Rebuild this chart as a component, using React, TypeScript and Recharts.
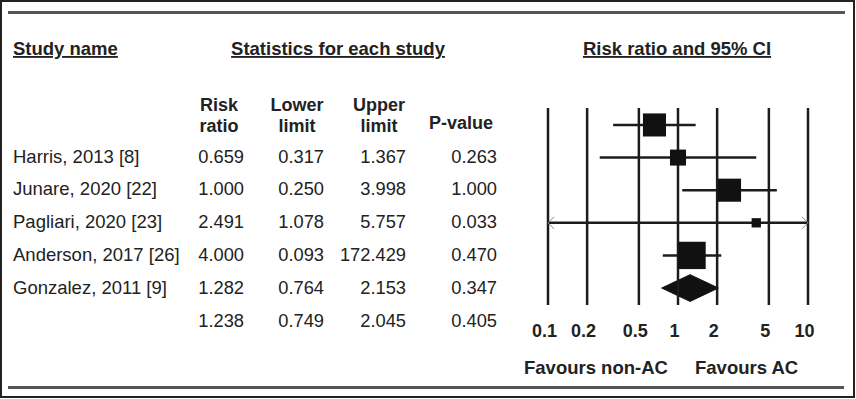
import React from 'react';
import { ComposedChart, XAxis, YAxis, Scatter, Area, ReferenceLine } from 'recharts';

// ---------- data ----------
const studyNames = ['Harris, 2013 [8]', 'Junare, 2020 [22]', 'Pagliari, 2020 [23]', 'Anderson, 2017 [26]', 'Gonzalez, 2011 [9]'];
const riskRatio = [0.659, 1.0, 2.491, 4.0, 1.282];
const lowerLimit = [0.317, 0.25, 1.078, 0.093, 0.764];
const upperLimit = [1.367, 3.998, 5.757, 172.429, 2.153];
const pValue = [0.263, 1.0, 0.033, 0.47, 0.347];
const studyWeight = [24.7, 11.9, 24.7, 4.0, 34.7];
const summaryStats = [1.238, 0.749, 2.045, 0.405]; // RR, lower, upper, p
const axisTicks = [0.1, 0.2, 0.5, 1, 2, 5, 10];
const tickLabels = ['0.1', '0.2', '0.5', '1', '2', '5', '10'];
const columnHeaders = [['Risk', 'ratio'], ['Lower', 'limit'], ['Upper', 'limit'], ['P-value']];

// ---------- layout ----------
const W = 856;
const H = 399;
const FONT = "'Liberation Sans', Arial, Helvetica, sans-serif";
const INK = '#1c1c1c';
const TXT = '#222';
const DOMAIN_MIN = 0.1;
const DOMAIN_MAX = 10;

const squareData = riskRatio.map((v, i) => ({ x: v, y: i, w: studyWeight[i] }));
const diamondData = [
  { x: summaryStats[1], d: [studyNames.length, studyNames.length] },
  { x: summaryStats[0], d: [studyNames.length - 0.41, studyNames.length + 0.41] },
  { x: summaryStats[2], d: [studyNames.length, studyNames.length] },
];

const Square = (props: any) => {
  const { cx, cy, payload } = props;
  const s = 4.64 * Math.sqrt(payload.w);
  return <rect x={cx - s / 2} y={cy - s / 2} width={s} height={s} fill="#111" />;
};

const makeCiShape = (arrowLeft: boolean, arrowRight: boolean) => (props: any) => {
  const { x1, y1, x2, y2 } = props;
  return (
    <g>
      <line x1={x1} y1={y1} x2={x2} y2={y2} stroke={INK} strokeWidth={2.5} />
      {arrowLeft && (
        <polyline points={`${x1 + 6},${y1 - 6} ${x1},${y1} ${x1 + 6},${y1 + 6}`} fill="none" stroke="#888" strokeWidth={1} />
      )}
      {arrowRight && (
        <polyline points={`${x2 - 6},${y2 - 6} ${x2},${y2} ${x2 - 6},${y2 + 6}`} fill="none" stroke="#888" strokeWidth={1} />
      )}
    </g>
  );
};

const Tick = (props: any) => {
  const { x, y, index } = props;
  return (
    <text x={x - 3.5} y={y + 31.5} textAnchor="middle" fontFamily={FONT} fontWeight="bold" fontSize={18} fill={TXT}>
      {tickLabels[index]}
    </text>
  );
};

const fmt = (v: number) => v.toFixed(3);

const colRight = [244, 324, 406, 497];
const colCenter = [219, 297, 379, 461];
const ROW0 = 162.5;
const PITCH = 32.8;

export default function App() {
  const rows = studyNames.map((name, i) => [riskRatio[i], lowerLimit[i], upperLimit[i], pValue[i]]);
  return (
    <div style={{ position: 'absolute', left: 0, top: 0, width: W, height: H, background: '#fff' }}>
      <div style={{ position: 'absolute', left: 0, top: 0 }}>
        <ComposedChart width={W} height={H} margin={{ top: 108, right: 48, bottom: 64, left: 548 }}>
          <XAxis
            type="number"
            dataKey="x"
            scale="log"
            domain={[DOMAIN_MIN, DOMAIN_MAX]}
            ticks={axisTicks}
            allowDataOverflow
            axisLine={false}
            tickLine={false}
            tickSize={0}
            tickMargin={0}
            height={30}
            tick={<Tick />}
            interval={0}
          />
          <YAxis type="number" dataKey="y" domain={[-0.52, 5.52]} reversed hide width={0} allowDataOverflow />
          {axisTicks.map((t) => (
            <ReferenceLine key={'v' + t} x={t} stroke={INK} strokeWidth={2.5} />
          ))}
          {studyNames.map((n, i) => {
            const lo = Math.max(lowerLimit[i], DOMAIN_MIN);
            const hi = Math.min(upperLimit[i], DOMAIN_MAX);
            return (
              <ReferenceLine
                key={'ci' + i}
                segment={[{ x: lo, y: i }, { x: hi, y: i }]}
                ifOverflow="visible"
                shape={makeCiShape(lowerLimit[i] < DOMAIN_MIN, upperLimit[i] > DOMAIN_MAX)}
              />
            );
          })}
          <Scatter data={squareData} shape={<Square />} isAnimationActive={false} />
          <Area
            data={diamondData}
            dataKey="d"
            type="linear"
            stroke="#111"
            strokeWidth={1}
            fill="#111"
            fillOpacity={1}
            isAnimationActive={false}
            dot={false}
            activeDot={false}
          />
        </ComposedChart>
      </div>
      <svg width={W} height={H} style={{ position: 'absolute', left: 0, top: 0, pointerEvents: 'none' }} fontFamily={FONT}>
        <rect x={1} y={1} width={853} height={396} fill="none" stroke="#222" strokeWidth={2} />
        <rect x={8} y={11} width={837} height={3} fill="#555" />
        <rect x={8} y={386} width={836} height={3} fill="#555" />
        <text x={13} y={55} fontSize={18.5} fontWeight="bold" fill={TXT} textDecoration="underline">Study name</text>
        <text x={338} y={55} fontSize={18.5} fontWeight="bold" fill={TXT} textAnchor="middle" textDecoration="underline">Statistics for each study</text>
        <text x={677} y={55} fontSize={18.5} fontWeight="bold" fill={TXT} textAnchor="middle" textDecoration="underline">Risk ratio and 95% CI</text>
        {columnHeaders.map((lines, c) =>
          lines.length === 2 ? (
            <g key={'h' + c}>
              <text x={colCenter[c]} y={110.5} fontSize={18} fontWeight="bold" fill={TXT} textAnchor="middle">{lines[0]}</text>
              <text x={colCenter[c]} y={131.5} fontSize={18} fontWeight="bold" fill={TXT} textAnchor="middle">{lines[1]}</text>
            </g>
          ) : (
            <text key={'h' + c} x={colCenter[c]} y={128.5} fontSize={18} fontWeight="bold" fill={TXT} textAnchor="middle">{lines[0]}</text>
          )
        )}
        {studyNames.map((name, i) => (
          <g key={'r' + i}>
            <text x={13} y={ROW0 + PITCH * i} fontSize={18.5} fill={TXT}>{name}</text>
            {rows[i].map((v, c) => (
              <text key={c} x={colRight[c]} y={ROW0 + PITCH * i} fontSize={18.3} fill={TXT} textAnchor="end">{fmt(v)}</text>
            ))}
          </g>
        ))}
        {summaryStats.map((v, c) => (
          <text key={'s' + c} x={colRight[c]} y={ROW0 + PITCH * studyNames.length} fontSize={18.3} fill={TXT} textAnchor="end">{fmt(v)}</text>
        ))}
        <text x={524} y={373.5} fontSize={18.5} fontWeight="bold" fill={TXT}>Favours non-AC</text>
        <text x={695} y={373.5} fontSize={18.5} fontWeight="bold" fill={TXT}>Favours AC</text>
      </svg>
    </div>
  );
}
